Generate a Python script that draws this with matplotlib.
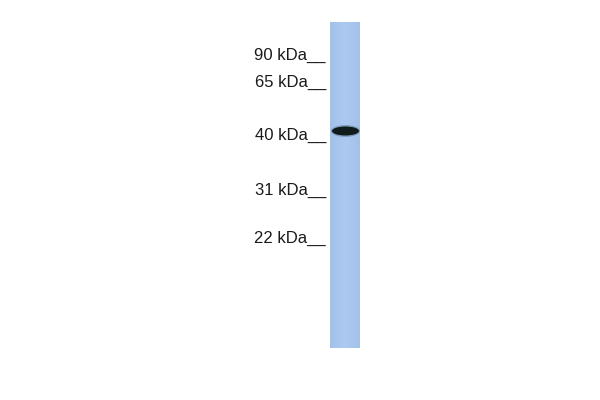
import numpy as np
import matplotlib.pyplot as plt
from matplotlib.patches import Ellipse

# marker ladder (label, baseline position in the blot in px)
marker_labels = ["90 kDa", "65 kDa", "40 kDa", "31 kDa", "22 kDa"]
marker_pos = [60, 87, 140, 195, 243]

# lane extent and the single detected band
lane_x = (330, 360)
lane_y = (22, 348)
band_y = 131
band_w = 28
band_h = 10

fig = plt.figure(figsize=(6, 4), dpi=100)
ax = fig.add_axes([0, 0, 1, 1])
ax.set_xlim(0, 600)
ax.set_ylim(400, 0)
ax.axis("off")

# lane: light blue with a faint vertical shading
grad = np.linspace(0, 1, 30)
shade = 1 - 0.04 * np.abs(grad - 0.5) * 2
img = np.zeros((2, 30, 3))
base = np.array([0.67, 0.79, 0.95])
img[:, :, :] = base * shade[None, :, None]
img = np.clip(img, 0, 1)
ax.imshow(img, extent=[lane_x[0], lane_x[1], lane_y[1], lane_y[0]],
          aspect="auto", interpolation="bilinear", zorder=1)

# band
cx = (lane_x[0] + lane_x[1]) / 2 + 0.5
ax.add_patch(Ellipse((cx, band_y), band_w + 1, band_h + 2,
                     color="#3a5060", alpha=0.35, zorder=2, lw=0))
ax.add_patch(Ellipse((cx, band_y), band_w - 1, band_h - 1,
                     color="#101c1c", zorder=3, lw=0))

for lab, y in zip(marker_labels, marker_pos):
    ax.text(326, y, lab + "__", ha="right", va="baseline", fontsize=12,
            color="#1a1a1a", family="Liberation Sans")

fig.savefig("out.png", dpi=100)
